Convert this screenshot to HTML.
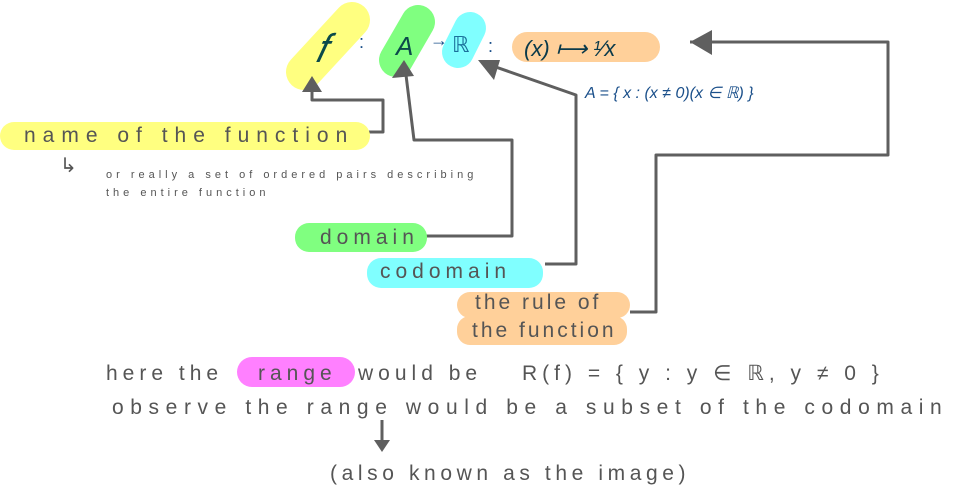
<!DOCTYPE html>
<html><head><meta charset="utf-8">
<style>
html,body{margin:0;padding:0;background:#fff;}
svg{display:block;}
text{font-family:"Liberation Sans",sans-serif;}
.hand{fill:#555;font-size:21px;}
.small{fill:#555;font-size:11px;}
.blue{fill:#1a4f8a;font-style:italic;}
.ln{stroke:#5f5f5f;stroke-width:3;fill:none;stroke-linejoin:round;}
.hd{fill:#5f5f5f;}
</style></head>
<body>
<svg width="957" height="500" viewBox="0 0 957 500">
  <line x1="304" y1="72" x2="352" y2="20" stroke="#ffff80" stroke-width="36" stroke-linecap="round"/>
  <line x1="396" y1="60" x2="418" y2="22" stroke="#80ff80" stroke-width="34" stroke-linecap="round"/>
  <line x1="458" y1="52" x2="470" y2="28" stroke="#80ffff" stroke-width="32" stroke-linecap="round"/>
  <rect x="512" y="32" width="148" height="30" rx="15" fill="#ffd09a"/>

  <text x="315" y="62" font-size="40" font-style="italic" fill="#0b4a4a">𝑓</text>
  <text x="359" y="48" font-size="18" fill="#1a4f8a">:</text>
  <text x="396" y="55" font-size="26" font-style="italic" fill="#0b4a4a">A</text>
  <text x="430" y="46" font-size="18" fill="#1a4f8a">→</text>
  <text x="452" y="52" font-size="22" fill="#1a6f9a">ℝ</text>
  <text x="488" y="52" font-size="18" fill="#1a4f8a">:</text>
  <text x="524" y="56" font-size="22" font-style="italic" fill="#0b3a4a">(x) ⟼ ¹⁄x</text>
  <text x="585" y="98" font-size="16" class="blue">A = { x : (x ≠ 0)(x ∈ ℝ) }</text>

  <polyline class="ln" points="690,42 888,42 888,155 656,155 656,312 630,312"/>
  <polygon class="hd" points="690,42 712,30 712,55"/>
  <polyline class="ln" points="366,132 383,132 383,100 312,100 312,88"/>
  <polygon class="hd" points="312,76 302,92 322,92"/>
  <polyline class="ln" points="422,236 512,236 512,140 414,140 406,75"/>
  <polygon class="hd" points="404,60 392,78 414,76"/>
  <polyline class="ln" points="545,264 576,264 576,95 490,65"/>
  <polygon class="hd" points="478,60 494,80 500,60"/>

  <rect x="0" y="122" width="370" height="28" rx="14" fill="#ffff80"/>
  <text x="24" y="142" class="hand" style="letter-spacing:7px">name of the function</text>
  <text x="60" y="172" font-size="20" fill="#555">↳</text>
  <text x="106" y="178" class="small" style="letter-spacing:4px">or really a set of ordered pairs describing</text>
  <text x="106" y="196" class="small" style="letter-spacing:4px">the entire function</text>

  <rect x="295" y="223" width="132" height="29" rx="14" fill="#80ff80"/>
  <text x="320" y="244" class="hand" style="letter-spacing:5px">domain</text>
  <rect x="367" y="258" width="176" height="30" rx="14" fill="#80ffff"/>
  <text x="380" y="278" class="hand" style="letter-spacing:5px">codomain</text>
  <rect x="457" y="292" width="173" height="26" rx="13" fill="#ffd09a"/>
  <rect x="457" y="316" width="170" height="29" rx="13" fill="#ffd09a"/>
  <text x="475" y="309" class="hand" font-size="18" style="letter-spacing:3px">the rule of</text>
  <text x="472" y="337" class="hand" font-size="18" style="letter-spacing:3px">the function</text>

  <rect x="237" y="357" width="118" height="30" rx="15" fill="#ff80ff"/>
  <text y="380" class="hand" font-size="23" style="letter-spacing:5px"><tspan x="106">here the</tspan><tspan x="258">range</tspan><tspan x="358">would be</tspan><tspan x="522" style="letter-spacing:5px">R(f) = { y : y ∈ ℝ, y ≠ 0 }</tspan></text>
  <text x="112" y="414" class="hand" font-size="22" style="letter-spacing:6.6px">observe the range would be a subset of the codomain</text>
  <line x1="382" y1="420" x2="382" y2="446" class="ln"/>
  <polygon class="hd" points="382,452 374,440 390,440"/>
  <text x="330" y="480" class="hand" font-size="22" style="letter-spacing:4.6px">(also known as the image)</text>
</svg>
</body></html>
